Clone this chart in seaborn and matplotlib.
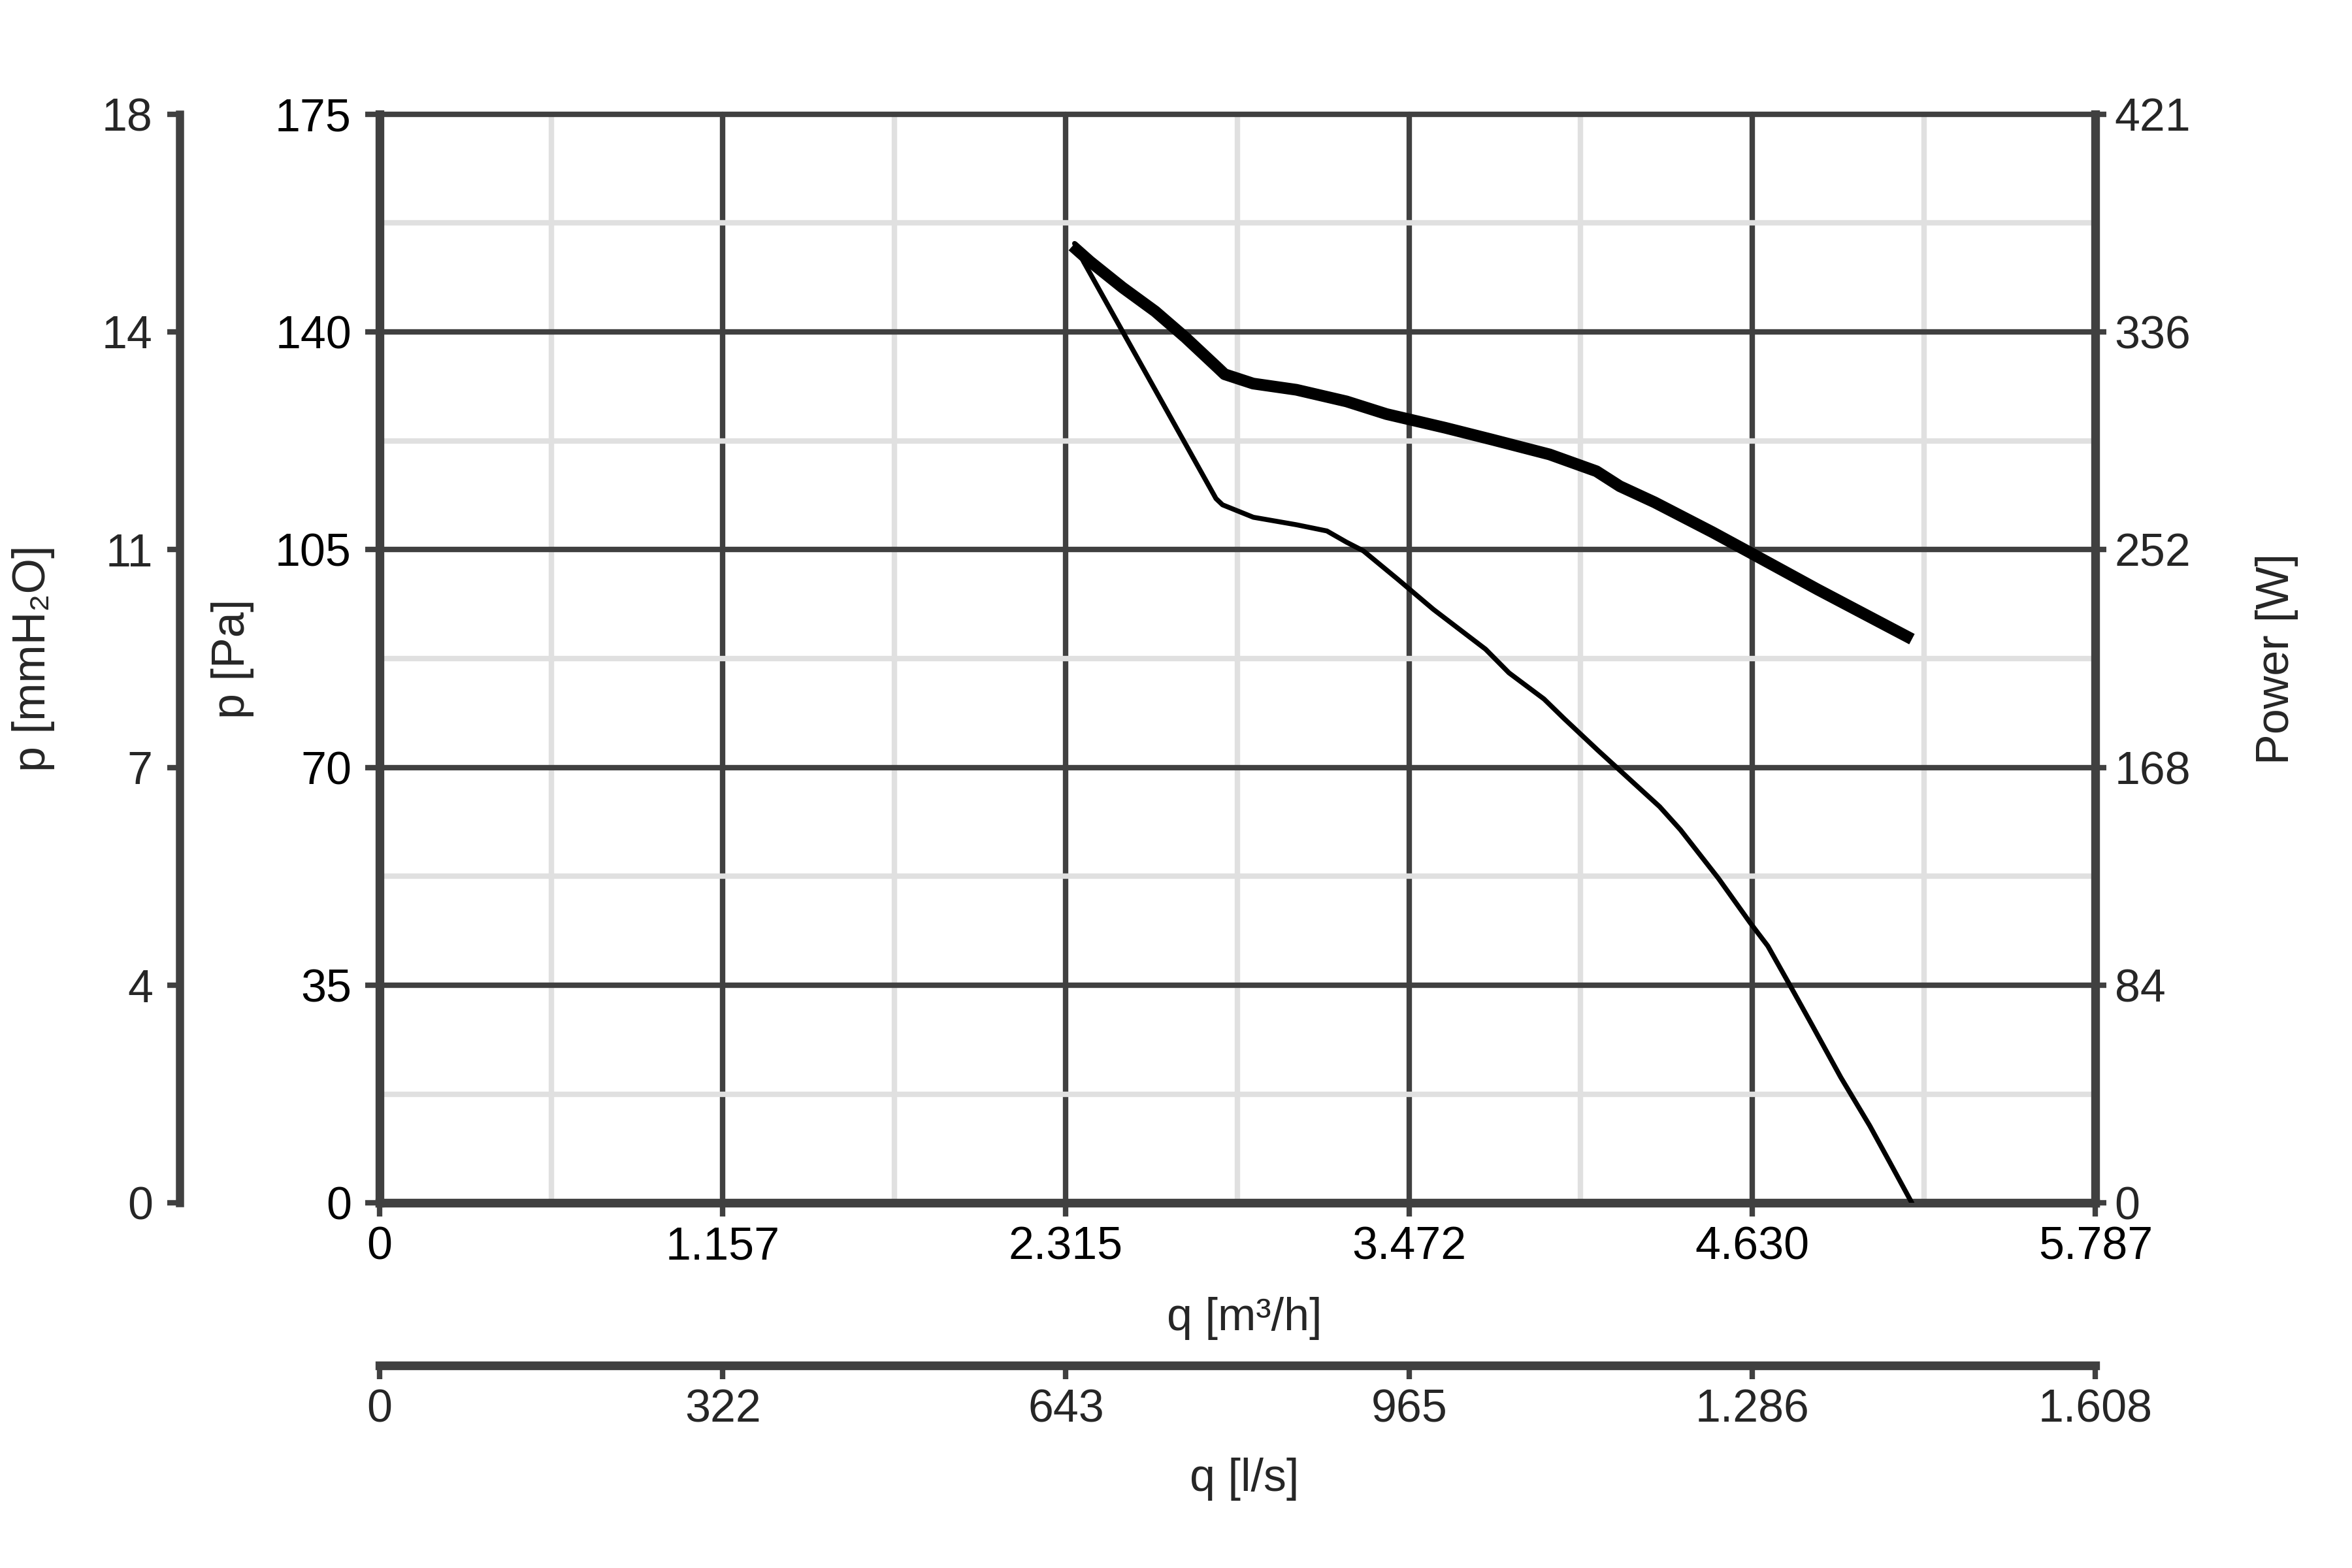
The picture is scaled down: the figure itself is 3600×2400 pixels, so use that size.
import matplotlib
matplotlib.use("Agg")
import matplotlib.pyplot as plt
import seaborn as sns
import pandas as pd

# ---- data ----
q_pressure = [2344, 2374, 2821, 2843, 2947, 3092, 3195, 3261, 3318, 3435, 3554,
              3730, 3809, 3927, 3996, 4110, 4317, 4387, 4515, 4623, 4682, 4760, 4830, 4928,
              5026, 5095, 5168]
p_pressure = [154.2, 151.3, 113.2, 112.2, 110.2, 109.0, 108.0, 106.2, 104.8, 100.2,
              95.4, 89.0, 85.2, 81.0, 77.8, 72.7, 63.7, 60.0, 52.2, 45.0, 41.3, 34.7, 28.7, 20.2,
              12.4, 6.4, 0.0]

q_power = [2337, 2396, 2506, 2616, 2718, 2828, 2850, 2946, 3092, 3261, 3396, 3594, 3750, 3946,
           4104, 4183, 4300, 4496, 4623, 4850, 5168]
w_power = [370.0, 364.0, 353.9, 344.7, 334.6, 322.8, 320.4, 316.8, 314.4, 309.9, 305.0, 299.7,
           295.2, 289.4, 282.9, 277.1, 270.9, 259.3, 251.4, 237.2, 218.0]

q_ticks = [0, 1157.4, 2314.8, 3472.2, 4629.6, 5787]
q_labels = ["0", "1.157", "2.315", "3.472", "4.630", "5.787"]
q_minor = [578.7, 1736.1, 2893.5, 4050.9, 5208.3]
ls_ticks = [0, 321.5, 643, 964.5, 1286, 1607.5]
ls_labels = ["0", "322", "643", "965", "1.286", "1.608"]
pa_ticks = [0, 35, 70, 105, 140, 175]
pa_labels = ["0", "35", "70", "105", "140", "175"]
pa_minor = [17.5, 52.5, 87.5, 122.5, 157.5]
mm_labels = ["0", "4", "7", "11", "14", "18"]
w_ticks = [0, 84.2, 168.4, 252.6, 336.8, 421]
w_labels = ["0", "84", "168", "252", "336", "421"]

DARK = "#404040"
LIGHT = "#e0e0e0"
FS = 16.8

sns.set_theme(style="white")
plt.rcParams["font.family"] = ["Liberation Sans", "DejaVu Sans"]

fig = plt.figure(figsize=(12, 8), dpi=300)
ax = fig.add_axes([0.16136, 0.23275, 0.72958, 0.69454])

ax.set_xlim(0, 5787)
ax.set_ylim(0, 175)
ax.set_xticks(q_ticks)
ax.set_xticklabels(q_labels)
ax.set_yticks(pa_ticks)
ax.set_yticklabels(pa_labels)
ax.set_xticks(q_minor, minor=True)
ax.set_yticks(pa_minor, minor=True)
ax.grid(which="minor", color=LIGHT, linewidth=2.0, zorder=0)
ax.grid(which="major", color=DARK, linewidth=2.0, zorder=1)
ax.set_axisbelow(True)
for gl in ax.get_ygridlines() + ax.get_xgridlines():
    gl.set_clip_on(False)
ax.tick_params(which="minor", length=0)
ax.tick_params(axis="x", which="major", length=5.0, width=2, color=DARK, labelsize=FS, pad=3.5,
               direction="out", labelcolor="black", bottom=True)
ax.tick_params(axis="y", which="major", length=5.3, width=2, color=DARK, labelsize=FS, pad=5,
               direction="out", labelcolor="black", left=True)
ax.spines["top"].set_visible(False)
for s in ["left", "bottom", "right"]:
    ax.spines[s].set_visible(True)
    ax.spines[s].set_color(DARK)
    ax.spines[s].set_linewidth(3.2)

df_p = pd.DataFrame({"q": q_pressure, "p": p_pressure})
sns.lineplot(data=df_p, x="q", y="p", ax=ax, color="black", linewidth=1.8,
             sort=False, estimator=None, zorder=5)
ax.set_xlabel("")
ax.set_ylabel("")

# power axis (right)
ax2 = ax.twinx()
df_w = pd.DataFrame({"q": q_power, "w": w_power})
sns.lineplot(data=df_w, x="q", y="w", ax=ax2, color="black", linewidth=4.3,
             sort=False, estimator=None, zorder=6, solid_capstyle="butt")
ax2.set_ylim(0, 421)
ax2.set_xlim(0, 5787)
ax2.set_yticks(w_ticks)
ax2.set_yticklabels(w_labels)
ax2.set_ylabel("")
for s in ax2.spines.values():
    s.set_visible(False)
ax2.tick_params(axis="y", which="major", right=True, length=4.0, width=2, color=DARK,
                labelsize=FS, pad=3, direction="out")
ax2.grid(False)

# mmH2O axis (outer left)
ax3 = ax.twinx()
ax3.set_ylim(0, 175)
ax3.set_yticks(pa_ticks)
ax3.set_yticklabels(mm_labels)
for s in ax3.spines.values():
    s.set_visible(False)
ax3.spines["left"].set_visible(True)
ax3.spines["left"].set_position(("axes", -0.1163))
ax3.spines["left"].set_color(DARK)
ax3.spines["left"].set_linewidth(3.0)
ax3.yaxis.set_ticks_position("left")
ax3.yaxis.set_label_position("left")
ax3.tick_params(axis="y", which="major", left=True, right=False, length=4.5, width=2,
                color=DARK, labelsize=FS, pad=5.5, direction="out")
ax3.grid(False)

# l/s axis (lower)
ax4 = ax.twiny()
ax4.set_xlim(0, 1607.5)
ax4.set_xticks(ls_ticks)
ax4.set_xticklabels(ls_labels)
for s in ax4.spines.values():
    s.set_visible(False)
ax4.spines["bottom"].set_visible(True)
ax4.spines["bottom"].set_position(("axes", -0.149))
ax4.spines["bottom"].set_color(DARK)
ax4.spines["bottom"].set_linewidth(3.2)
ax4.xaxis.set_ticks_position("bottom")
ax4.xaxis.set_label_position("bottom")
ax4.tick_params(axis="x", which="major", bottom=True, top=False, length=5.0, width=2,
                color=DARK, labelsize=FS, pad=3.5, direction="out")
ax4.grid(False)

# axis titles
fig.text(0.5291, 1 - 2018 / 2400, "q [m³/h]", ha="center", va="center", fontsize=FS)
fig.text(0.5291, 1 - 2264 / 2400, "q [l/s]", ha="center", va="center", fontsize=FS)
fig.text(356 / 3600, 0.58, "p [Pa]", ha="center", va="center", rotation=90, fontsize=FS)
fig.text(51 / 3600, 0.58, "p [mmH₂O]", ha="center", va="center", rotation=90, fontsize=FS)
fig.text(3485 / 3600, 0.58, "Power [W]", ha="center", va="center", rotation=90, fontsize=FS)

fig.savefig("out.png", dpi=300, facecolor="white")
